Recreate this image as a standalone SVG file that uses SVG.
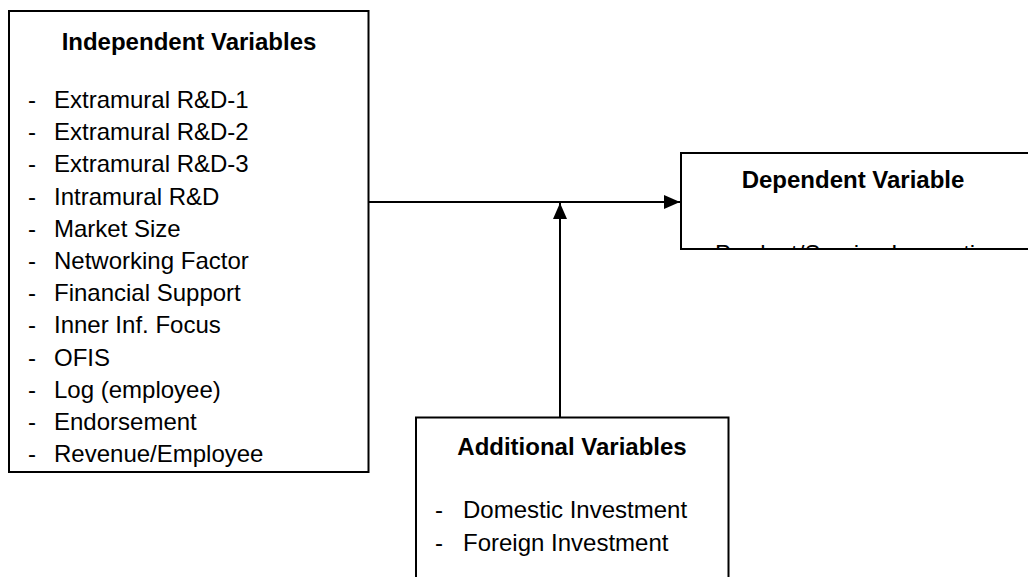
<svg xmlns="http://www.w3.org/2000/svg" width="1028" height="577" viewBox="0 0 1028 577">
  <style>
    .box { fill: #ffffff; stroke: #000000; stroke-width: 2; }
    .head { font-family: "Liberation Sans", Arial, sans-serif; font-weight: bold; font-size: 24px; fill: #000000; text-anchor: middle; }
    .item { font-family: "Liberation Sans", Arial, sans-serif; font-size: 24px; fill: #000000; }
    .link { stroke: #000000; stroke-width: 2; fill: none; }
  </style>
  <defs>
    <marker id="arrow" viewBox="0 0 16 14" refX="16" refY="7" markerWidth="16" markerHeight="14" markerUnits="userSpaceOnUse" orient="auto">
      <path d="M0,0 L16,7 L0,14 z" fill="#000000"/>
    </marker>
    <!-- the dependent box only shows the top of its second line -->
    <clipPath id="depClip">
      <rect x="682" y="154" width="346" height="94"/>
    </clipPath>
  </defs>
  <rect width="1028" height="577" fill="#ffffff"/>

  <g id="independent">
    <rect class="box" x="9" y="11" width="359.5" height="461"/>
    <text class="head" x="189" y="50">Independent Variables</text>
    <g class="item">
      <text x="28" y="108">-</text><text x="54" y="108">Extramural R&amp;D-1</text>
      <text x="28" y="140.2">-</text><text x="54" y="140.2">Extramural R&amp;D-2</text>
      <text x="28" y="172.4">-</text><text x="54" y="172.4">Extramural R&amp;D-3</text>
      <text x="28" y="204.6">-</text><text x="54" y="204.6">Intramural R&amp;D</text>
      <text x="28" y="236.8">-</text><text x="54" y="236.8">Market Size</text>
      <text x="28" y="269">-</text><text x="54" y="269">Networking Factor</text>
      <text x="28" y="301.2">-</text><text x="54" y="301.2">Financial Support</text>
      <text x="28" y="333.4">-</text><text x="54" y="333.4">Inner Inf. Focus</text>
      <text x="28" y="365.6">-</text><text x="54" y="365.6">OFIS</text>
      <text x="28" y="397.8">-</text><text x="54" y="397.8">Log (employee)</text>
      <text x="28" y="430">-</text><text x="54" y="430">Endorsement</text>
      <text x="28" y="462.2">-</text><text x="54" y="462.2">Revenue/Employee</text>
    </g>
  </g>

  <g id="dependent">
    <rect class="box" x="681" y="153" width="360" height="96"/>
    <text class="head" x="853" y="188">Dependent Variable</text>
    <text class="item" x="715" y="262" clip-path="url(#depClip)">Product/Service Innovation</text>
  </g>

  <g id="additional">
    <rect class="box" x="416" y="417.5" width="312.5" height="180"/>
    <text class="head" x="572" y="455">Additional Variables</text>
    <text class="item" x="435" y="518">-</text><text class="item" x="463" y="518">Domestic Investment</text>
    <text class="item" x="435" y="551">-</text><text class="item" x="463" y="551">Foreign Investment</text>
  </g>

  <g id="connectors">
    <line class="link" x1="369" y1="202" x2="680" y2="202" marker-end="url(#arrow)"/>
    <line class="link" x1="560" y1="417" x2="560" y2="203" marker-end="url(#arrow)"/>
  </g>
</svg>
